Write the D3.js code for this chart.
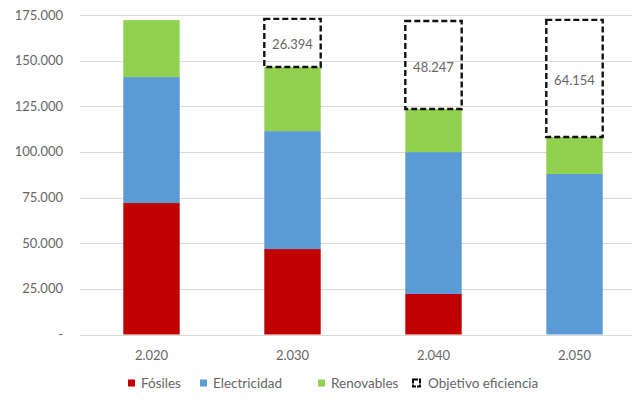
<!DOCTYPE html>
<html><head><meta charset="utf-8">
<script src="https://cdn.jsdelivr.net/npm/d3@7"></script>
<style>body{margin:0;background:#fff}svg{display:block}text{font-family:Lato,"Open Sans",sans-serif}</style>
</head><body>
<div id="chart"></div>
<script>
const years = ["2.020","2.030","2.040","2.050"];
const fosiles = [72000, 46800, 22200, 0];
const electricidad = [69000, 64600, 77700, 87900];
const renovables = [31200, 35100, 23600, 20300];
const objetivo = [0, 26394, 48247, 64154];
const objetivoLabels = ["", "26.394", "48.247", "64.154"];
const yTicks = [0, 25000, 50000, 75000, 100000, 125000, 150000, 175000];
const seriesNames = ["Fósiles","Electricidad","Renovables","Objetivo eficiencia"];
const colors = ["#C00000","#5B9BD5","#92D050","none"];

const W = 632, H = 401;
const svg = d3.select("#chart").append("svg").attr("width", W).attr("height", H);
const x = d3.scaleBand().domain(years).range([81, 645]).paddingInner(0.6).paddingOuter(0.3);
const y = d3.scaleLinear().domain([0, 175000]).range([334.5, 15]);

// gridlines
svg.append("g").selectAll("line").data(yTicks).join("line")
  .attr("x1", 80).attr("x2", W).attr("y1", d => Math.round(y(d)) + 0.5).attr("y2", d => Math.round(y(d)) + 0.5)
  .attr("stroke", "#D9D9D9").attr("stroke-width", 1);

// y labels
const fmt = d => d === 0 ? "-" : d3.format(",")(d).replace(/,/g, ".");
svg.append("g").selectAll("text").data(yTicks).join("text")
  .attr("x", 63).attr("y", d => y(d)).attr("dy", "0.35em").attr("text-anchor", "end")
  .attr("font-size", 13).attr("fill", "#666").text(fmt);

const table = years.map((yr, i) => ({year: yr, "Fósiles": fosiles[i], "Electricidad": electricidad[i], "Renovables": renovables[i], "Objetivo eficiencia": objetivo[i], label: objetivoLabels[i]}));
const stack = d3.stack().keys(seriesNames)(table);

stack.forEach((s, si) => {
  const g = svg.append("g");
  g.selectAll("rect").data(s.filter(d => d[1] - d[0] > 0)).join("rect")
    .attr("x", d => x(d.data.year)).attr("width", x.bandwidth())
    .attr("y", d => y(d[1])).attr("height", d => y(d[0]) - y(d[1]))
    .attr("fill", si === 3 ? "#fff" : colors[si])
    .attr("fill-opacity", si === 3 ? 0 : 1)
    .attr("stroke", si === 3 ? "#111" : "none")
    .attr("stroke-width", si === 3 ? 2.4 : 0)
    .attr("stroke-dasharray", si === 3 ? "6,3" : null);
  if (si === 3) {
    g.selectAll("text").data(s.filter(d => d[1] - d[0] > 0)).join("text")
      .attr("x", d => x(d.data.year) + x.bandwidth() / 2)
      .attr("y", d => (y(d[0]) + y(d[1])) / 2 + 2)
      .attr("dy", "0.35em").attr("text-anchor", "middle")
      .attr("font-size", 13).attr("fill", "#666").text(d => d.data.label);
  }
});

// x labels
svg.append("g").selectAll("text").data(years).join("text")
  .attr("x", d => x(d) + x.bandwidth() / 2).attr("y", 355).attr("dy", "0.35em")
  .attr("text-anchor", "middle").attr("font-size", 13).attr("fill", "#666").text(d => d);

// legend
const legX = [128, 200, 318, 413];
const lg = svg.append("g").selectAll("g").data(seriesNames).join("g")
  .attr("transform", (d, i) => `translate(${legX[i]},383)`);
lg.append("rect").attr("x", 0).attr("y", -3.5).attr("width", 7).attr("height", 7)
  .attr("fill", (d, i) => i === 3 ? "#fff" : colors[i])
  .attr("stroke", (d, i) => i === 3 ? "#000" : "none")
  .attr("stroke-width", (d, i) => i === 3 ? 2 : 0)
  .attr("stroke-dasharray", (d, i) => i === 3 ? "5,1" : null);
lg.append("text").attr("x", (d, i) => i === 3 ? 15 : 13).attr("y", 0).attr("dy", "0.35em")
  .attr("font-size", 13.5).attr("fill", "#666").text(d => d);
</script>
</body></html>
